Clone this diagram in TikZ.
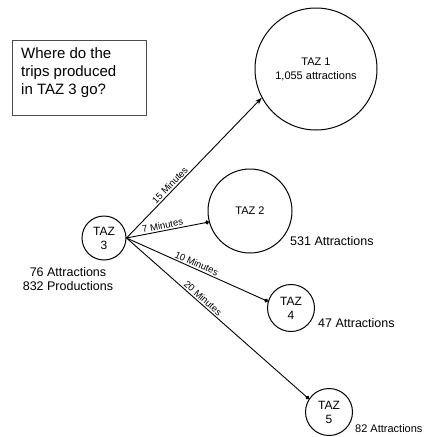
\documentclass[tikz,border=0pt]{standalone}
\usepackage{fontspec}
\setmainfont{Liberation Sans}
\usetikzlibrary{arrows.meta}
\begin{document}
\begin{tikzpicture}[x=1pt,y=1pt,
  zone/.style={draw,circle,line width=1pt,inner sep=0pt,align=center,font=\fontsize{11}{14}\selectfont},
  tag/.style={font=\fontsize{12.5}{13.5}\selectfont,inner sep=0pt},
  trip/.style={line width=0.9pt,-{Circle[length=4pt]}},
  mins/.style={sloped,above,font=\fontsize{9.5}{10}\selectfont,inner sep=1.5pt}]
\useasboundingbox (0,0) rectangle (430,-437);
% question box
\node[draw=black!70,line width=0.9pt,minimum width=134pt,minimum height=75pt,inner sep=0pt] (q) at (79,-77.5) {};
\node[anchor=north west,align=left,inner sep=0pt,font=\fontsize{15}{18}\selectfont] (qt) at (21,-47) {Where do the\\trips produced\\in TAZ 3 go?};
% zones
\node[zone,minimum size=122pt] (taz1) at (316,-69) {TAZ 1\\1,055 attractions};
\node[zone,minimum size=84pt] (taz2) at (250,-211) {TAZ 2};
\node[zone,minimum size=44pt,font=\fontsize{12}{14}\selectfont] (taz3) at (104,-238) {TAZ\\3};
\node[zone,minimum size=47pt,font=\fontsize{12}{14}\selectfont] (taz4) at (291,-308) {TAZ\\4};
\node[zone,minimum size=47pt,font=\fontsize{12}{14}\selectfont] (taz5) at (329,-412) {TAZ\\5};
% zone data
\node[tag,align=center] (d3) at (68,-279) {76 Attractions\\832 Productions};
\node[tag,anchor=west] (d2) at (290,-241) {531 Attractions};
\node[tag,anchor=west] (d4) at (318,-323) {47 Attractions};
\node[tag,anchor=west,font=\fontsize{11}{13}\selectfont] (d5) at (355,-429) {82 Attractions};
% trips out of TAZ 3
\draw[line width=0.9pt,-{Stealth[length=7pt,width=5pt]}] (taz3.east) -- node[mins,pos=0.35] {15 Minutes} (taz1.208);
\draw[trip] (taz3.east) -- node[mins,pos=0.45] {7 Minutes} (taz2.195);
\draw[trip] (taz3.east) -- node[mins,pos=0.48] {10 Minutes} (taz4.164);
\draw[trip] (taz3.east) -- node[mins,pos=0.4] {20 Minutes} (taz5.147);
\end{tikzpicture}
\end{document}
